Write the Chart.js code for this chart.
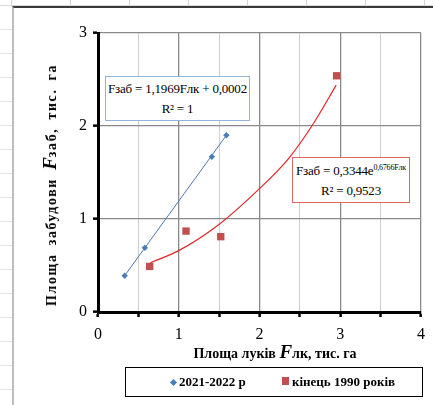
<!DOCTYPE html>
<html>
<head>
<meta charset="utf-8">
<script src="https://cdn.jsdelivr.net/npm/chart.js@4.4.1/dist/chart.umd.min.js"></script>
<style>
    body { margin: 0; width: 433px; height: 405px; overflow: hidden; background: #fff; position: relative; font-family: "Liberation Serif", "Times New Roman", serif; }
    .sheet-top { position: absolute; left: 0; top: 0; width: 433px; height: 5px; border-bottom: 1px solid #d9d9d9;
        background: repeating-linear-gradient(90deg, transparent 0 11px, #d4d4d4 11px 12px, transparent 12px 59px); }
    .sheet-left { position: absolute; left: 0; top: 6px; width: 12px; height: 400px;
        background: repeating-linear-gradient(180deg, transparent 0 23px, #e2e2e2 23px 24px); }
    .frame { position: absolute; left: 12px; top: 6px; width: 440px; height: 420px; border-left: 2px solid #bdbdbd; border-top: 2px solid #3a3a3a; }
    #wrap { position: absolute; left: 0; top: 0; width: 433px; height: 405px; }
    .eq { position: absolute; background: #fff; font-size: 13px; text-align: center; line-height: 20px; color: #000; box-sizing: border-box; white-space: nowrap; }
    #eq1 { left: 105px; top: 76px; width: 145px; height: 45px; border: 1px solid #95b3d7; padding-top: 2px; letter-spacing: -0.2px; }
    #eq2 { left: 292px; top: 157px; width: 118px; height: 46px; border: 1px solid #e06666; padding-top: 3px; letter-spacing: -0.2px; }
    #eq2 sup { font-size: 8px; vertical-align: 5px; line-height: 0; }
    .ytitle { position: absolute; left: 50px; top: 185px; transform: translate(-50%, -50%) rotate(-90deg); white-space: nowrap;
        font-weight: bold; font-size: 14px; letter-spacing: 1.6px; word-spacing: 3px; }
    .xtitle { position: absolute; left: 275px; top: 352px; transform: translate(-50%, -50%); white-space: nowrap; font-weight: bold; font-size: 14px; }
    .bigF { font-style: italic; font-size: 19px; letter-spacing: 0; }
    .legend { position: absolute; left: 125px; top: 367px; width: 298px; height: 30px; border: 1px solid #000; box-sizing: border-box;
        font-weight: bold; font-size: 13px; line-height: 28px; }
    .legend span.item { position: absolute; top: 0; }
    .mk-blue { display: inline-block; width: 5px; height: 5px; background: #4a7ebb; transform: rotate(45deg); margin-right: 3px; vertical-align: 1px; }
    .mk-red { display: inline-block; width: 7px; height: 8px; background: #c0504d; margin-right: 3px; vertical-align: 1px; }
</style>
</head>
<body>
<div class="sheet-top"></div>
<div class="sheet-left"></div>
<div class="frame"></div>
<div id="wrap"><canvas id="chart" width="433" height="405"></canvas></div>

<div class="ytitle">Площа  забудови <span class="bigF">F</span>заб, тис. га</div>
<div class="xtitle">Площа луків <span class="bigF">F</span>лк, тис. га</div>

<div class="eq" id="eq1">Fзаб = 1,1969Fлк + 0,0002<br>R² = 1</div>
<div class="eq" id="eq2">Fзаб = 0,3344e<sup>0,6766Fлк</sup><br>R² = 0,9523</div>

<div class="legend">
    <span class="item" style="left: 45px;"><span class="mk-blue"></span>2021-2022 р</span>
    <span class="item" style="left: 156px;"><span class="mk-red"></span>кінець 1990 років</span>
</div>

<script>
// Data
const seriesNames = ['2021-2022 р', 'кінець 1990 років'];

// 2021-2022 р
const blueX = [0.33, 0.58, 1.41, 1.59];
const blueY = [0.39, 0.69, 1.67, 1.90];

// кінець 1990 років
const redX = [0.64, 1.09, 1.52, 2.955];
const redY = [0.49, 0.87, 0.81, 2.54];

// trend lines
const blueTrendX = [0.33, 1.59];
const blueTrendY = [0.39, 1.90];
const redTrendX = [0.65, 1.0, 1.51, 1.98, 2.36, 2.67, 2.95];
const redTrendY = [0.53, 0.66, 0.95, 1.31, 1.65, 2.03, 2.44];

// axes
const xTicks = [0, 1, 2, 3, 4];
const yTicks = [0, 1, 2, 3];

function toPoints(xs, ys) {
    return xs.map((x, i) => ({ x: x, y: ys[i] }));
}

const ctx = document.getElementById('chart');

new Chart(ctx, {
    type: 'scatter',
    data: {
        datasets: [
            {
                label: 'trend ' + seriesNames[0],
                data: toPoints(blueTrendX, blueTrendY),
                showLine: true,
                borderColor: '#4f79b3',
                borderWidth: 1,
                pointRadius: 0
            },
            {
                label: 'trend ' + seriesNames[1],
                data: toPoints(redTrendX, redTrendY),
                showLine: true,
                borderColor: '#e0262a',
                borderWidth: 1.2,
                cubicInterpolationMode: 'monotone',
                pointRadius: 0
            },
            {
                label: seriesNames[0],
                data: toPoints(blueX, blueY),
                pointStyle: 'rectRot',
                pointRadius: 3.2,
                backgroundColor: '#4a7ebb',
                borderColor: '#4a7ebb',
                borderWidth: 0
            },
            {
                label: seriesNames[1],
                data: toPoints(redX, redY),
                pointStyle: 'rect',
                pointRadius: 5.2,
                backgroundColor: '#c0504d',
                borderColor: '#c0504d',
                borderWidth: 0
            }
        ]
    },
    options: {
        responsive: false,
        animation: false,
        layout: { padding: { left: 0, right: 7, top: 33, bottom: 0 } },
        plugins: {
            legend: { display: false },
            tooltip: { enabled: false }
        },
        scales: {
            x: {
                type: 'linear',
                min: 0,
                max: 4,
                afterFit: (scale) => { scale.height = 93; },
                ticks: {
                    stepSize: 0.5,
                    padding: 8,
                    color: '#000',
                    font: { family: 'Liberation Serif', size: 16 },
                    maxRotation: 0,
                    callback: (v) => xTicks.includes(v) ? String(v) : ''
                },
                grid: {
                    color: (c) => (c.tick && Number.isInteger(c.tick.value)) ? '#8a8a8a' : '#cfcfcf',
                    lineWidth: (c) => (c.tick && Number.isInteger(c.tick.value)) ? 1.3 : 1,
                    tickColor: '#000',
                    tickLength: 5,
                    tickWidth: 2.5
                },
                border: { color: '#000', width: 3 }
            },
            y: {
                type: 'linear',
                min: 0,
                max: 3,
                afterFit: (scale) => { scale.width = 98; },
                ticks: {
                    stepSize: 1,
                    padding: 6,
                    color: '#000',
                    font: { family: 'Liberation Serif', size: 16 },
                    callback: (v) => yTicks.includes(v) ? String(v) : ''
                },
                grid: {
                    color: '#8a8a8a',
                    lineWidth: 1.3,
                    tickColor: '#000',
                    tickLength: 5,
                    tickWidth: 2.5
                },
                border: { color: '#000', width: 3 }
            }
        }
    }
});
</script>
</body>
</html>
